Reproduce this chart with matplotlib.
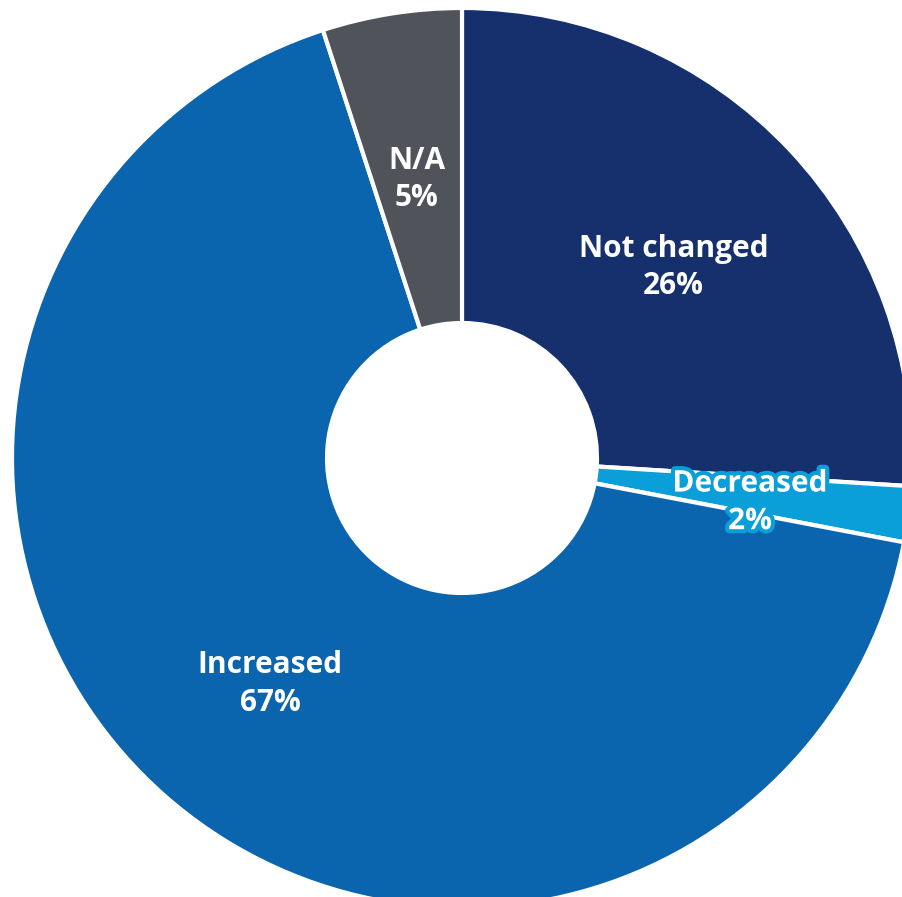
import matplotlib
matplotlib.use("Agg")
from matplotlib import pyplot as plt
import matplotlib.patheffects as pe
from matplotlib.transforms import offset_copy

# data
categories = ["Not changed", "Decreased", "Increased", "N/A"]
shares = [26, 2, 67, 5]
colors = ["#15306d", "#0a9fd9", "#0a64ae", "#51535b"]

plt.rcParams['font.family'] = ['Open Sans', 'DejaVu Sans']

W, H = 902, 897
fig = plt.figure(figsize=(W / 100, H / 100), dpi=100)

# center of the donut in pixels, and outer radius
cx, cy, R = 462, 458, 450
ax = fig.add_axes([(cx - R) / W, (H - cy - R) / H, 2 * R / W, 2 * R / H])
ax.set_xlim(-1, 1)
ax.set_ylim(-1, 1)
ax.axis("off")

labels = ["{}\n{}%".format(c, v) for c, v in zip(categories, shares)]
wedges, texts = ax.pie(shares, labels=labels, colors=colors, startangle=90,
                       counterclock=False, radius=1.0, labeldistance=0.645,
                       wedgeprops=dict(width=0.70, edgecolor="white", linewidth=3),
                       textprops=dict(color="white", fontsize=21.5, fontweight="bold"))
ax.set_xlim(-1, 1)
ax.set_ylim(-1, 1)

for t in texts:
    t.set_ha("center")
    t.set_va("center")
    t.set_linespacing(1.33)
    # nudge down a little, the labels sit slightly below the wedge centre
    t.set_transform(offset_copy(t.get_transform(), fig=fig, y=-8, units='dots'))

# small slice label gets an outline in its own colour
texts[1].set_path_effects([pe.withStroke(linewidth=6, foreground=colors[1])])

fig.savefig("out.png", dpi=100)
